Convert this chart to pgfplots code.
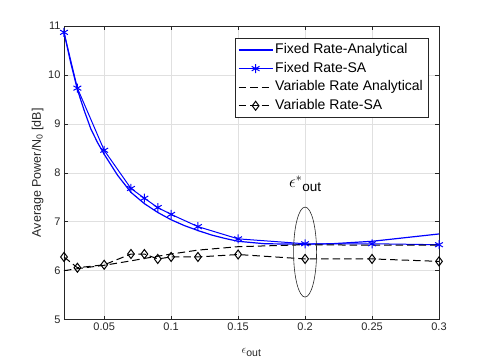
\documentclass[border=0pt]{standalone}
\usepackage{fontspec}
\setmainfont{Liberation Sans}
\usepackage{pgfplots}
\pgfplotsset{compat=1.18}
\usetikzlibrary{calc}
\definecolor{axgray}{gray}{0.15}
\definecolor{gridgray}{gray}{0.88}

\begin{document}
\begin{tikzpicture}
\begin{axis}[
  scale only axis, width=375pt, height=293.6pt,
  xmin=0.02, xmax=0.3, ymin=5, ymax=11,
  xtick={0.05,0.1,0.15,0.2,0.25,0.3},
  xticklabels={0.05,0.1,0.15,0.2,0.25,0.3},
  ytick={5,6,7,8,9,10,11},
  grid=major, major grid style={gridgray, line width=0.5pt},
  axis line style={axgray, line width=0.5pt},
  tick style={axgray, line width=0.5pt}, major tick length=3.75pt, tick align=inside,
  tick label style={font=\fontsize{11}{13}\selectfont, text=axgray},
  /pgf/number format/assume math mode=true,
  ylabel={Average Power/N\textsubscript{0} [dB]},
  ylabel style={font=\fontsize{12.5}{14}\selectfont, text=axgray, yshift=-2pt},
  xlabel={{\fontsize{13}{14}\selectfont$\epsilon$}\textsubscript{\fontsize{10.5}{11}\selectfont out}},
  xlabel style={font=\fontsize{10.5}{11}\selectfont, text=axgray, yshift=-11pt},
  legend cell align=left,
  legend image code/.code={\draw[mark repeat=2, mark phase=2, #1] plot coordinates {(0pt,0pt) (17pt,0pt) (34pt,0pt)};},
  legend style={at={(1,1)}, anchor=north east, xshift=-11pt, yshift=-12.3pt,
    draw=axgray, font=\fontsize{14}{16}\selectfont,
    inner xsep=3pt, inner ysep=3pt, row sep=1.6pt,
    nodes={inner sep=2pt, text height=10pt, text depth=3pt}},
]
% fixed rate, analytical
\addplot[color=blue, draw=blue, line width=1.2pt] coordinates {
 (0.02,10.87) (0.025,10.25) (0.03,9.70) (0.035,9.28) (0.04,8.90) (0.045,8.62)
 (0.05,8.38) (0.06,7.95) (0.07,7.60) (0.08,7.37) (0.09,7.19) (0.1,7.04)
 (0.11,6.92) (0.12,6.82) (0.13,6.73) (0.14,6.66) (0.15,6.60) (0.17,6.55)
 (0.2,6.54) (0.22,6.55) (0.25,6.60) (0.27,6.66) (0.3,6.75)};
% fixed rate, SA
\addplot[blue, line width=1pt, mark=asterisk, mark size=4.5pt, mark options={solid, line width=1pt}] coordinates {
 (0.02,10.87) (0.03,9.73) (0.05,8.46) (0.07,7.68) (0.08,7.48) (0.09,7.29)
 (0.1,7.15) (0.12,6.90) (0.15,6.65) (0.2,6.55) (0.25,6.55) (0.3,6.53)};
% variable rate, analytical
\addplot[black, line width=1pt, dash pattern=on 7.5pt off 4pt] coordinates {
 (0.02,6.00) (0.03,6.04) (0.05,6.11) (0.07,6.20) (0.08,6.25) (0.1,6.34)
 (0.12,6.42) (0.15,6.49) (0.2,6.53) (0.25,6.52) (0.3,6.52)};
% variable rate, SA
\addplot[black, line width=1pt, dash pattern=on 7.5pt off 4pt, mark=diamond, mark size=4.5pt, mark options={solid, fill=white, line width=1pt}] coordinates {
 (0.02,6.28) (0.03,6.06) (0.05,6.12) (0.07,6.34) (0.08,6.34) (0.09,6.24)
 (0.1,6.28) (0.12,6.28) (0.15,6.33) (0.2,6.24) (0.25,6.24) (0.3,6.19)};
\legend{Fixed Rate-Analytical, Fixed Rate-SA, Variable Rate Analytical, Variable Rate-SA}
\draw[axgray, line width=0.6pt] (axis cs:0.2,6.38) ellipse [x radius=11.5pt, y radius=45pt];
\node[font=\fontsize{13.5}{14}\selectfont, text=black] at (axis cs:0.2,7.77) {{\fontsize{17}{18}\selectfont$\epsilon^{*}$}\raisebox{-4pt}{out}};
\end{axis}
\path ($(current axis.south west)+(-64pt,-43.4pt)$) rectangle ($(current axis.north east)+(46pt,26pt)$);
\end{tikzpicture}
\end{document}
